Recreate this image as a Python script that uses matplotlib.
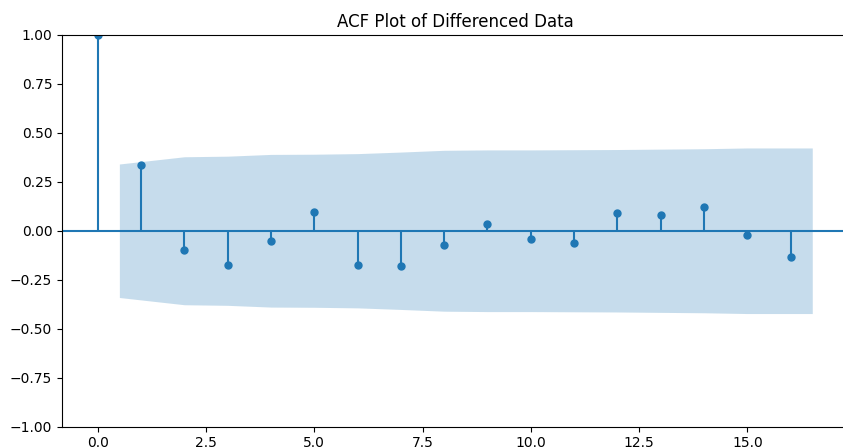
import numpy as np
import matplotlib
matplotlib.use("Agg")
import matplotlib.pyplot as plt

# Autocorrelation of the differenced series, lags 0..16
lags = np.arange(17)
acf_vals = [1.0, 0.337, -0.097, -0.173, -0.051, 0.097, -0.173, -0.179,
            -0.071, 0.036, -0.041, -0.061, 0.092, 0.082, 0.122, -0.020, -0.133]

# 95% confidence half-width (Bartlett) for lags 1..16
conf_half = [0.341, 0.378, 0.381, 0.390, 0.391, 0.394, 0.402, 0.411,
             0.413, 0.413, 0.414, 0.415, 0.417, 0.419, 0.423, 0.423]

fig = plt.figure(figsize=(8.43, 4.48), dpi=100)
ax = fig.add_axes([62 / 843, 21.5 / 448, 786 / 843, 391.5 / 448])

ax.vlines(lags, [0], acf_vals, color="C0")
ax.axhline(0, color="C0")
ax.margins(0.05)
ax.plot(lags, acf_vals, marker="o", markersize=5, linestyle="None", color="C0")

band_x = lags[1:].astype(float)
band_x[0] -= 0.5
band_x[-1] += 0.5
half = np.array(conf_half)
ax.fill_between(band_x, -half, half, alpha=0.25, linewidth=0, color="C0")

ax.set_ylim(-1.0, 1.0)
ax.set_yticks([-1.0, -0.75, -0.5, -0.25, 0.0, 0.25, 0.5, 0.75, 1.0])
ax.set_xticks([0.0, 2.5, 5.0, 7.5, 10.0, 12.5, 15.0])
ax.tick_params(axis="x", pad=3.0)
ax.set_title("ACF Plot of Differenced Data", fontsize=12)

fig.savefig("out.png", dpi=100)
